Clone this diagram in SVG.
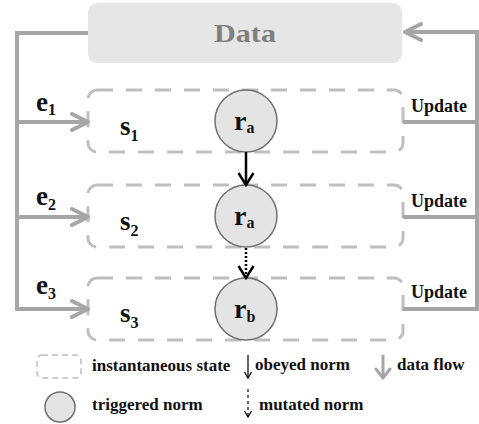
<svg xmlns="http://www.w3.org/2000/svg" width="479" height="424" viewBox="0 0 479 424">
<style>
.t{font-family:"Liberation Serif","Times New Roman",serif;font-weight:bold;fill:#111}
.big{font-size:27px}
.sub{font-size:16px}
.lbl{font-size:17px}
.upd{font-size:18px}
.flow{fill:none;stroke:#a6a6a6;stroke-width:4;stroke-linejoin:miter}
.state{fill:none;stroke:#bfbfbf;stroke-width:3;stroke-dasharray:16 13}
.norm{fill:#e4e4e4;stroke:#707070;stroke-width:1.5}
</style>
<defs>
<marker id="ga" viewBox="-20 -10 22 20" markerWidth="22" markerHeight="20" refX="0" refY="0" markerUnits="userSpaceOnUse" orient="auto">
<path d="M-16,-8 L0,0 L-16,8" fill="none" stroke="#a6a6a6" stroke-width="4" stroke-linecap="round" stroke-linejoin="round"/>
</marker>
<marker id="ba" viewBox="-16 -10 18 20" markerWidth="18" markerHeight="20" refX="0" refY="0" markerUnits="userSpaceOnUse" orient="auto">
<path d="M-12,-7.5 L0,0 L-12,7.5" fill="none" stroke="#000" stroke-width="2.5" stroke-linejoin="miter"/>
</marker>
<marker id="sa" viewBox="-8 -5 10 10" markerWidth="10" markerHeight="10" refX="0" refY="0" markerUnits="userSpaceOnUse" orient="auto">
<path d="M-6,-3.5 L0,0 L-6,3.5" fill="none" stroke="#000" stroke-width="1.2"/>
</marker>
<marker id="gs" viewBox="-12 -9 14 18" markerWidth="14" markerHeight="18" refX="0" refY="0" markerUnits="userSpaceOnUse" orient="auto">
<path d="M-9,-7 L0,0 L-9,7" fill="none" stroke="#a6a6a6" stroke-width="3" stroke-linecap="round" stroke-linejoin="round"/>
</marker>
</defs>

<g id="data">
<rect x="88" y="3" width="314" height="60" rx="9" fill="#e6e6e6"/>
<text class="t" x="245" y="42" font-size="26" text-anchor="middle" style="fill:#7f7f7f" textLength="62" lengthAdjust="spacingAndGlyphs">Data</text>
</g>

<g id="state1">
<rect class="state" x="88" y="90" width="315" height="62" rx="9"/>
<text class="t big" x="120" y="135">s<tspan class="sub" dy="6">1</tspan></text>
</g>
<g id="state2">
<rect class="state" x="88" y="185" width="315" height="62" rx="9"/>
<text class="t big" x="120" y="230">s<tspan class="sub" dy="6">2</tspan></text>
</g>
<g id="state3">
<rect class="state" x="88" y="278" width="315" height="62" rx="9"/>
<text class="t big" x="120" y="322">s<tspan class="sub" dy="6">3</tspan></text>
</g>

<g id="norm1">
<circle class="norm" cx="246" cy="121" r="31"/>
<text class="t" x="234" y="130" font-size="28">r<tspan class="sub" dy="3">a</tspan></text>
</g>
<g id="norm2">
<circle class="norm" cx="246" cy="216" r="31"/>
<text class="t" x="234" y="225" font-size="28">r<tspan class="sub" dy="3">a</tspan></text>
</g>
<g id="norm3">
<circle class="norm" cx="246" cy="309" r="31"/>
<text class="t" x="234" y="318" font-size="28">r<tspan class="sub" dy="4">b</tspan></text>
</g>

<g id="connectors">
<path class="flow" d="M88,33 H17 V309 H88" marker-end="url(#ga)"/>
<path class="flow" d="M17,122 H88" marker-end="url(#ga)"/>
<path class="flow" d="M17,217 H88" marker-end="url(#ga)"/>
<path class="flow" d="M403,309 H477 V32 H405" marker-end="url(#ga)"/>
<path class="flow" d="M403,122 H477"/>
<path class="flow" d="M403,217 H477"/>
<path d="M246,152 V185" fill="none" stroke="#000" stroke-width="2.5" marker-end="url(#ba)"/>
<path d="M246,248 V278" fill="none" stroke="#000" stroke-width="2.5" stroke-dasharray="2 2" marker-end="url(#ba)"/>
</g>

<g id="labels">
<text class="t big" x="36" y="111">e<tspan class="sub" dy="4">1</tspan></text>
<text class="t big" x="36" y="205">e<tspan class="sub" dy="5">2</tspan></text>
<text class="t big" x="36" y="294">e<tspan class="sub" dy="5">3</tspan></text>
<text class="t upd" x="411" y="112">Update</text>
<text class="t upd" x="411" y="207">Update</text>
<text class="t upd" x="411" y="298">Update</text>
</g>

<g id="legend">
<rect x="37" y="355" width="44" height="23" rx="5" fill="none" stroke="#bfbfbf" stroke-width="1.5" stroke-dasharray="6 4"/>
<text class="t lbl" x="92" y="371">instantaneous state</text>
<path d="M248,355 V378" stroke="#000" stroke-width="1.2" marker-end="url(#sa)"/>
<text class="t lbl" x="255" y="370">obeyed norm</text>
<path d="M383,355 V378" stroke="#a6a6a6" stroke-width="3" marker-end="url(#gs)"/>
<text class="t lbl" x="397" y="370">data flow</text>
<circle class="norm" cx="60" cy="407" r="15"/>
<text class="t lbl" x="92" y="410">triggered norm</text>
<path d="M248,389 V417" stroke="#000" stroke-width="1.2" stroke-dasharray="3 3" marker-end="url(#sa)"/>
<text class="t lbl" x="259" y="410">mutated norm</text>
</g>
</svg>
